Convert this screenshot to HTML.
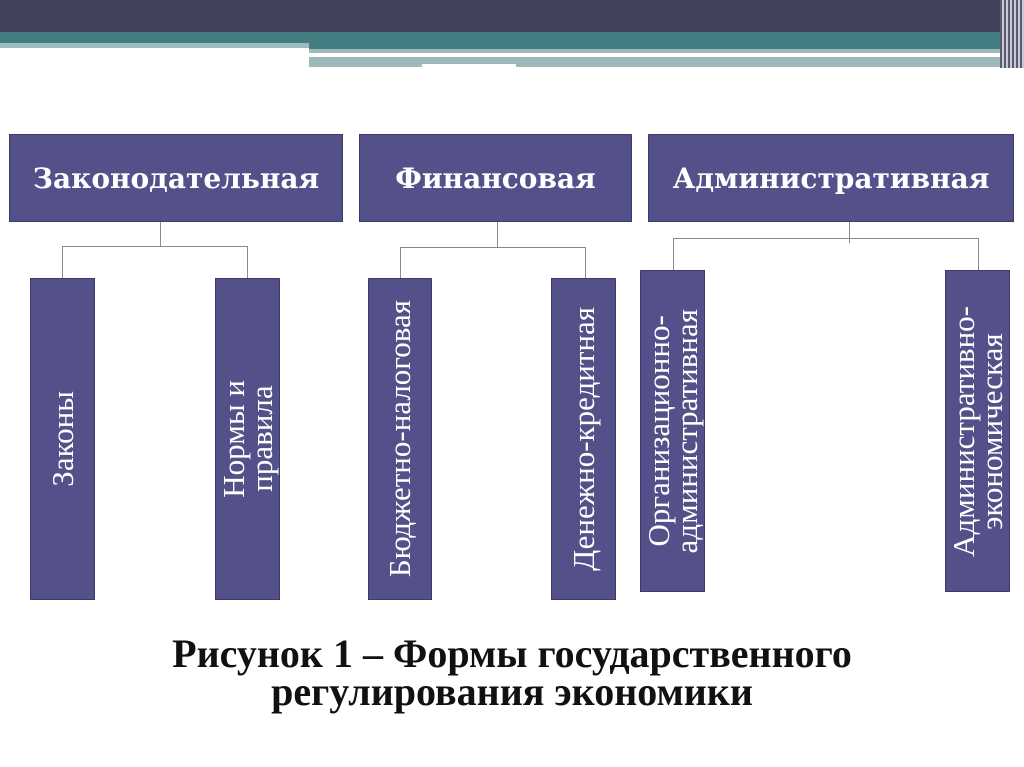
<!DOCTYPE html>
<html><head><meta charset="utf-8"><style>
body{margin:0;width:1024px;height:767px;background:#fff;position:relative;overflow:hidden;font-family:"Liberation Serif",serif}
.a{position:absolute}
.box{position:absolute;background:#53508a;border:1px solid #3c3a6a;box-sizing:border-box;color:#fff;display:flex;align-items:center;justify-content:center}
.top{font-family:"DejaVu Serif",serif;font-size:28px;font-weight:bold}
.v{writing-mode:vertical-rl;transform:rotate(180deg);font-size:31px;line-height:28px;text-align:center;white-space:nowrap}
.l{position:absolute;background:#8a8a8a}
</style></head><body>
<div class="a" style="left:0;top:0;width:1024px;height:32px;background:#42435a"></div>
<div class="a" style="left:0;top:32px;width:1024px;height:11px;background:#437f82"></div>
<div class="a" style="left:0;top:43px;width:309px;height:5px;background:#9fbcbd"></div>
<div class="a" style="left:309px;top:43px;width:715px;height:6px;background:#437f82"></div>
<div class="a" style="left:309px;top:49px;width:715px;height:4px;background:#9fb8b9"></div>
<div class="a" style="left:309px;top:53px;width:176px;height:4px;background:#fff"></div>
<div class="a" style="left:309px;top:57px;width:713px;height:10px;background:#9fb8b9"></div>
<div class="a" style="left:422px;top:64px;width:94px;height:4px;background:#fff"></div>
<div class="a" style="left:1000px;top:0;width:24px;height:68px;background:repeating-linear-gradient(90deg,#5a5a70 0 2px,#c8c8d0 2px 4px)"></div>

<div class="box top" style="left:9px;top:134px;width:334px;height:88px">Законодательная</div>
<div class="box top" style="left:359px;top:134px;width:273px;height:88px">Финансовая</div>
<div class="box top" style="left:648px;top:134px;width:366px;height:88px">Административная</div>

<div class="l" style="left:160px;top:222px;width:1px;height:24px"></div>
<div class="l" style="left:62px;top:246px;width:186px;height:1px"></div>
<div class="l" style="left:62px;top:246px;width:1px;height:32px"></div>
<div class="l" style="left:247px;top:246px;width:1px;height:32px"></div>

<div class="l" style="left:497px;top:222px;width:1px;height:25px"></div>
<div class="l" style="left:400px;top:247px;width:186px;height:1px"></div>
<div class="l" style="left:400px;top:247px;width:1px;height:31px"></div>
<div class="l" style="left:585px;top:247px;width:1px;height:31px"></div>

<div class="l" style="left:849px;top:222px;width:1px;height:21px"></div>
<div class="l" style="left:673px;top:238px;width:306px;height:1px"></div>
<div class="l" style="left:673px;top:238px;width:1px;height:32px"></div>
<div class="l" style="left:978px;top:238px;width:1px;height:32px"></div>

<div class="box" style="left:30px;top:278px;width:65px;height:322px"><div class="v">Законы</div></div>
<div class="box" style="left:215px;top:278px;width:65px;height:322px"><div class="v">Нормы и<br>правила</div></div>
<div class="box" style="left:368px;top:278px;width:64px;height:322px"><div class="v">Бюджетно-налоговая</div></div>
<div class="box" style="left:551px;top:278px;width:65px;height:322px"><div class="v">Денежно-кредитная</div></div>
<div class="box" style="left:640px;top:270px;width:65px;height:322px"><div class="v">Организационно-<br>административная</div></div>
<div class="box" style="left:945px;top:270px;width:65px;height:322px"><div class="v">Административно-<br>экономическая</div></div>

<div class="a" style="left:0;width:1024px;top:635px;text-align:center;font-size:40px;font-weight:bold;line-height:38px;color:#111">Рисунок 1 – Формы государственного<br>регулирования экономики</div>
</body></html>
